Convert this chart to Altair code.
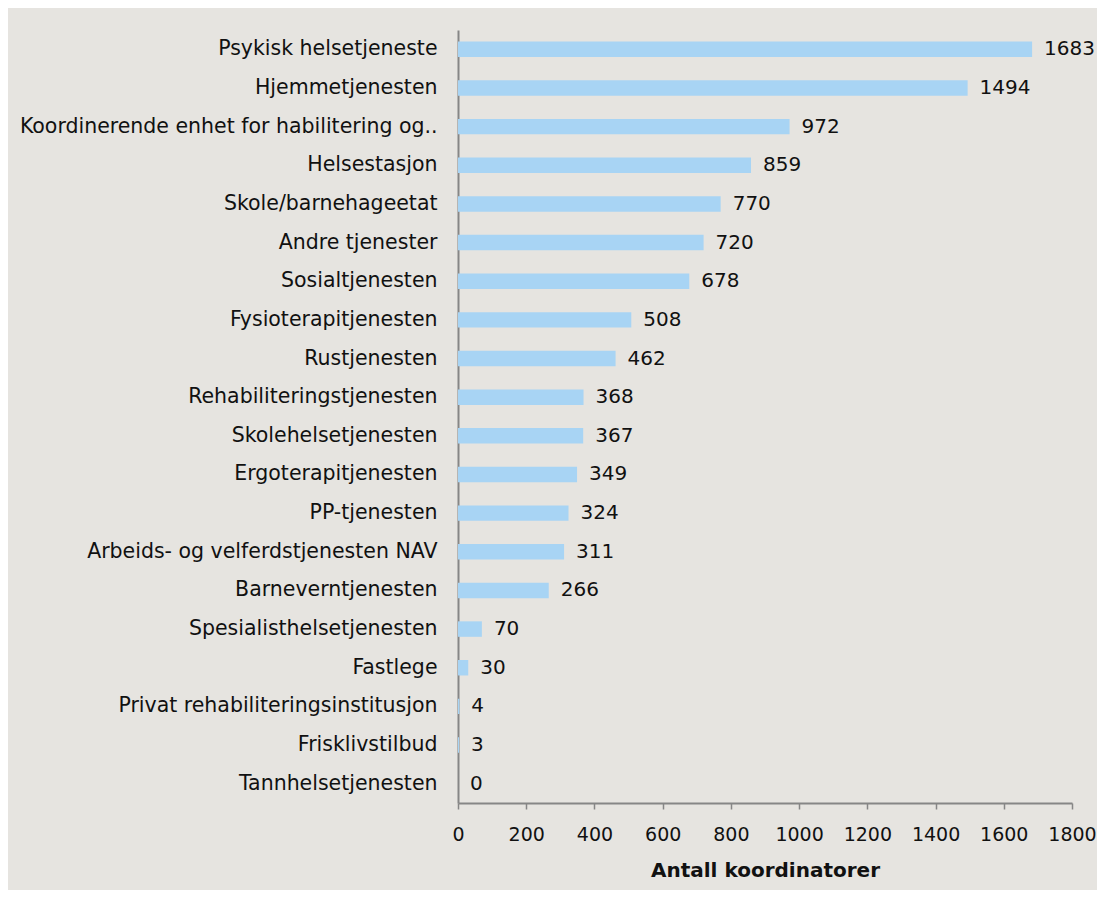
import altair as alt
import pandas as pd

categories = [
    "Psykisk helsetjeneste",
    "Hjemmetjenesten",
    "Koordinerende enhet for habilitering og..",
    "Helsestasjon",
    "Skole/barnehageetat",
    "Andre tjenester",
    "Sosialtjenesten",
    "Fysioterapitjenesten",
    "Rustjenesten",
    "Rehabiliteringstjenesten",
    "Skolehelsetjenesten",
    "Ergoterapitjenesten",
    "PP-tjenesten",
    "Arbeids- og velferdstjenesten NAV",
    "Barneverntjenesten",
    "Spesialisthelsetjenesten",
    "Fastlege",
    "Privat rehabiliteringsinstitusjon",
    "Frisklivstilbud",
    "Tannhelsetjenesten",
]
values = [1683, 1494, 972, 859, 770, 720, 678, 508, 462, 368, 367, 349, 324, 311, 266, 70, 30, 4, 3, 0]
x_ticks = [0, 200, 400, 600, 800, 1000, 1200, 1400, 1600, 1800]

df = pd.DataFrame({"kategori": categories, "antall": values})

FONT = "DejaVu Sans"

y_enc = alt.Y(
    "kategori:N",
    sort=categories,
    title=None,
    scale=alt.Scale(paddingInner=0.6, paddingOuter=0.3),
    axis=alt.Axis(
        ticks=False,
        labelPadding=21,
        labelFontSize=20.5,
        labelFont=FONT,
        labelColor="#111111",
        labelLimit=440,
        domainColor="#868686",
        domainWidth=2,
    ),
)
x_enc = alt.X(
    "antall:Q",
    title="Antall koordinatorer",
    scale=alt.Scale(domain=[0, 1800], nice=False),
    axis=alt.Axis(
        values=x_ticks,
        format="d",
        grid=False,
        labelOverlap=False,
        labelFlush=False,
        tickSize=6,
        tickColor="#868686",
        tickWidth=1.5,
        domainColor="#868686",
        domainWidth=2,
        labelPadding=16,
        labelFontSize=19,
        labelFont=FONT,
        labelColor="#111111",
        titleFont=FONT,
        titleFontSize=20,
        titleFontWeight="bold",
        titleColor="#111111",
        titlePadding=16,
    ),
)

bars = alt.Chart(df).mark_bar(color="#A8D4F4").encode(x=x_enc, y=y_enc)
labels = alt.Chart(df).mark_text(
    align="left", baseline="middle", dx=12, fontSize=20, font=FONT, color="#111111"
).encode(x="antall:Q", y=alt.Y("kategori:N", sort=categories), text="antall:Q")

chart = (
    (bars + labels)
    .properties(
        width=614,
        height=773,
        background="#E6E4E0",
        padding={"left": 450, "top": 22, "right": 25, "bottom": 87},
        autosize=alt.AutoSizeParams(type="none"),
    )
    .configure_view(stroke=None)
)

chart.save("out.html", embed_options={"renderer": "svg", "actions": False})
